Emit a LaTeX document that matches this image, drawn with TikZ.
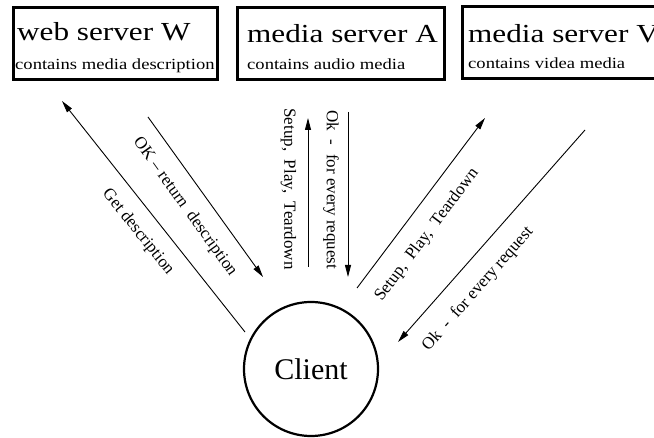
\documentclass[tikz,border=0pt]{standalone}
\usepackage{fontspec}
\setmainfont{Liberation Serif}
\newfontfamily\boxfont{Liberation Serif}[FakeStretch=1.2]
\usetikzlibrary{arrows.meta}
\begin{document}
\begin{tikzpicture}[x=1pt,y=-1pt,
 srvbox/.style={draw, line width=3pt, inner sep=0pt},
 msg/.style={line width=0.9pt},
 tipend/.style={-{Triangle[length=12pt,width=6pt]}},
 lbl/.style={inner sep=0pt, font=\fontsize{17}{17}\selectfont},
 bigtxt/.style={anchor=base west, inner sep=0pt, font=\boxfont\fontsize{26}{26}\selectfont},
 smalltxt/.style={anchor=base west, inner sep=0pt, font=\boxfont\fontsize{15.5}{15.5}\selectfont}]
\useasboundingbox (0,0) rectangle (654,438);
\fill[white] (0,0) rectangle (654,438);

% server boxes
\node[srvbox, minimum width=204pt, minimum height=72pt] (W) at (115,44) {};
\node[srvbox, minimum width=207pt, minimum height=72pt] (A) at (340.5,44) {};
\node[srvbox, minimum width=202pt, minimum height=72pt] (V) at (563,43) {};
\node[bigtxt] (Wt) at (17,41) {web server W};
\node[smalltxt] (Ws) at (15,70) {contains media description};
\node[bigtxt] (At) at (247,43) {media server A};
\node[smalltxt] (As) at (247,70) {contains audio media};
\node[bigtxt] (Vt) at (468,43) {media server V};
\node[smalltxt] (Vs) at (468,69) {contains videa media};

% client
\node[circle, draw, line width=2.2pt, minimum size=134pt, inner sep=0pt,
      font=\fontsize{30}{30}\selectfont] (C) at (311,369) {Client};

% endpoints
\coordinate (g1) at (245,332); \coordinate (g2) at (62,101);
\coordinate (o1) at (148,117); \coordinate (o2) at (263,277);
\coordinate (s1) at (308,267); \coordinate (s2) at (308,118);
\coordinate (k1) at (348,112); \coordinate (k2) at (348,277);
\coordinate (d1) at (357,288); \coordinate (d2) at (485,118);
\coordinate (e1) at (585,130); \coordinate (e2) at (398,342);

\draw[msg, tipend] (g1) -- (g2);
\draw[msg, tipend] (o1) -- (o2);
\draw[msg, tipend] (s1) -- (s2);
\draw[msg, tipend] (k1) -- (k2);
\draw[msg, tipend] (d1) -- (d2);
\draw[msg, tipend] (e1) -- (e2);

% labels
\node[lbl, rotate=-51.3] (gl) at (138,232) {Get description};
\node[lbl, rotate=-54.3] (ol) at (185,207) {OK – return\ \ description};
\node[lbl, rotate=-90] (sl) at (288.5,189) {Setup,\ \ Play,\ \ Teardown};
\node[lbl, rotate=-90] (kl) at (331,190) {Ok\ \ -\ \ for every request};
\node[lbl, rotate=53] (dl) at (427,235) {Setup,\ \ Play,\ \ Teardown};
\node[lbl, rotate=48.6] (el) at (478,289) {Ok\ \ -\ \ for every request};
\end{tikzpicture}
\end{document}
